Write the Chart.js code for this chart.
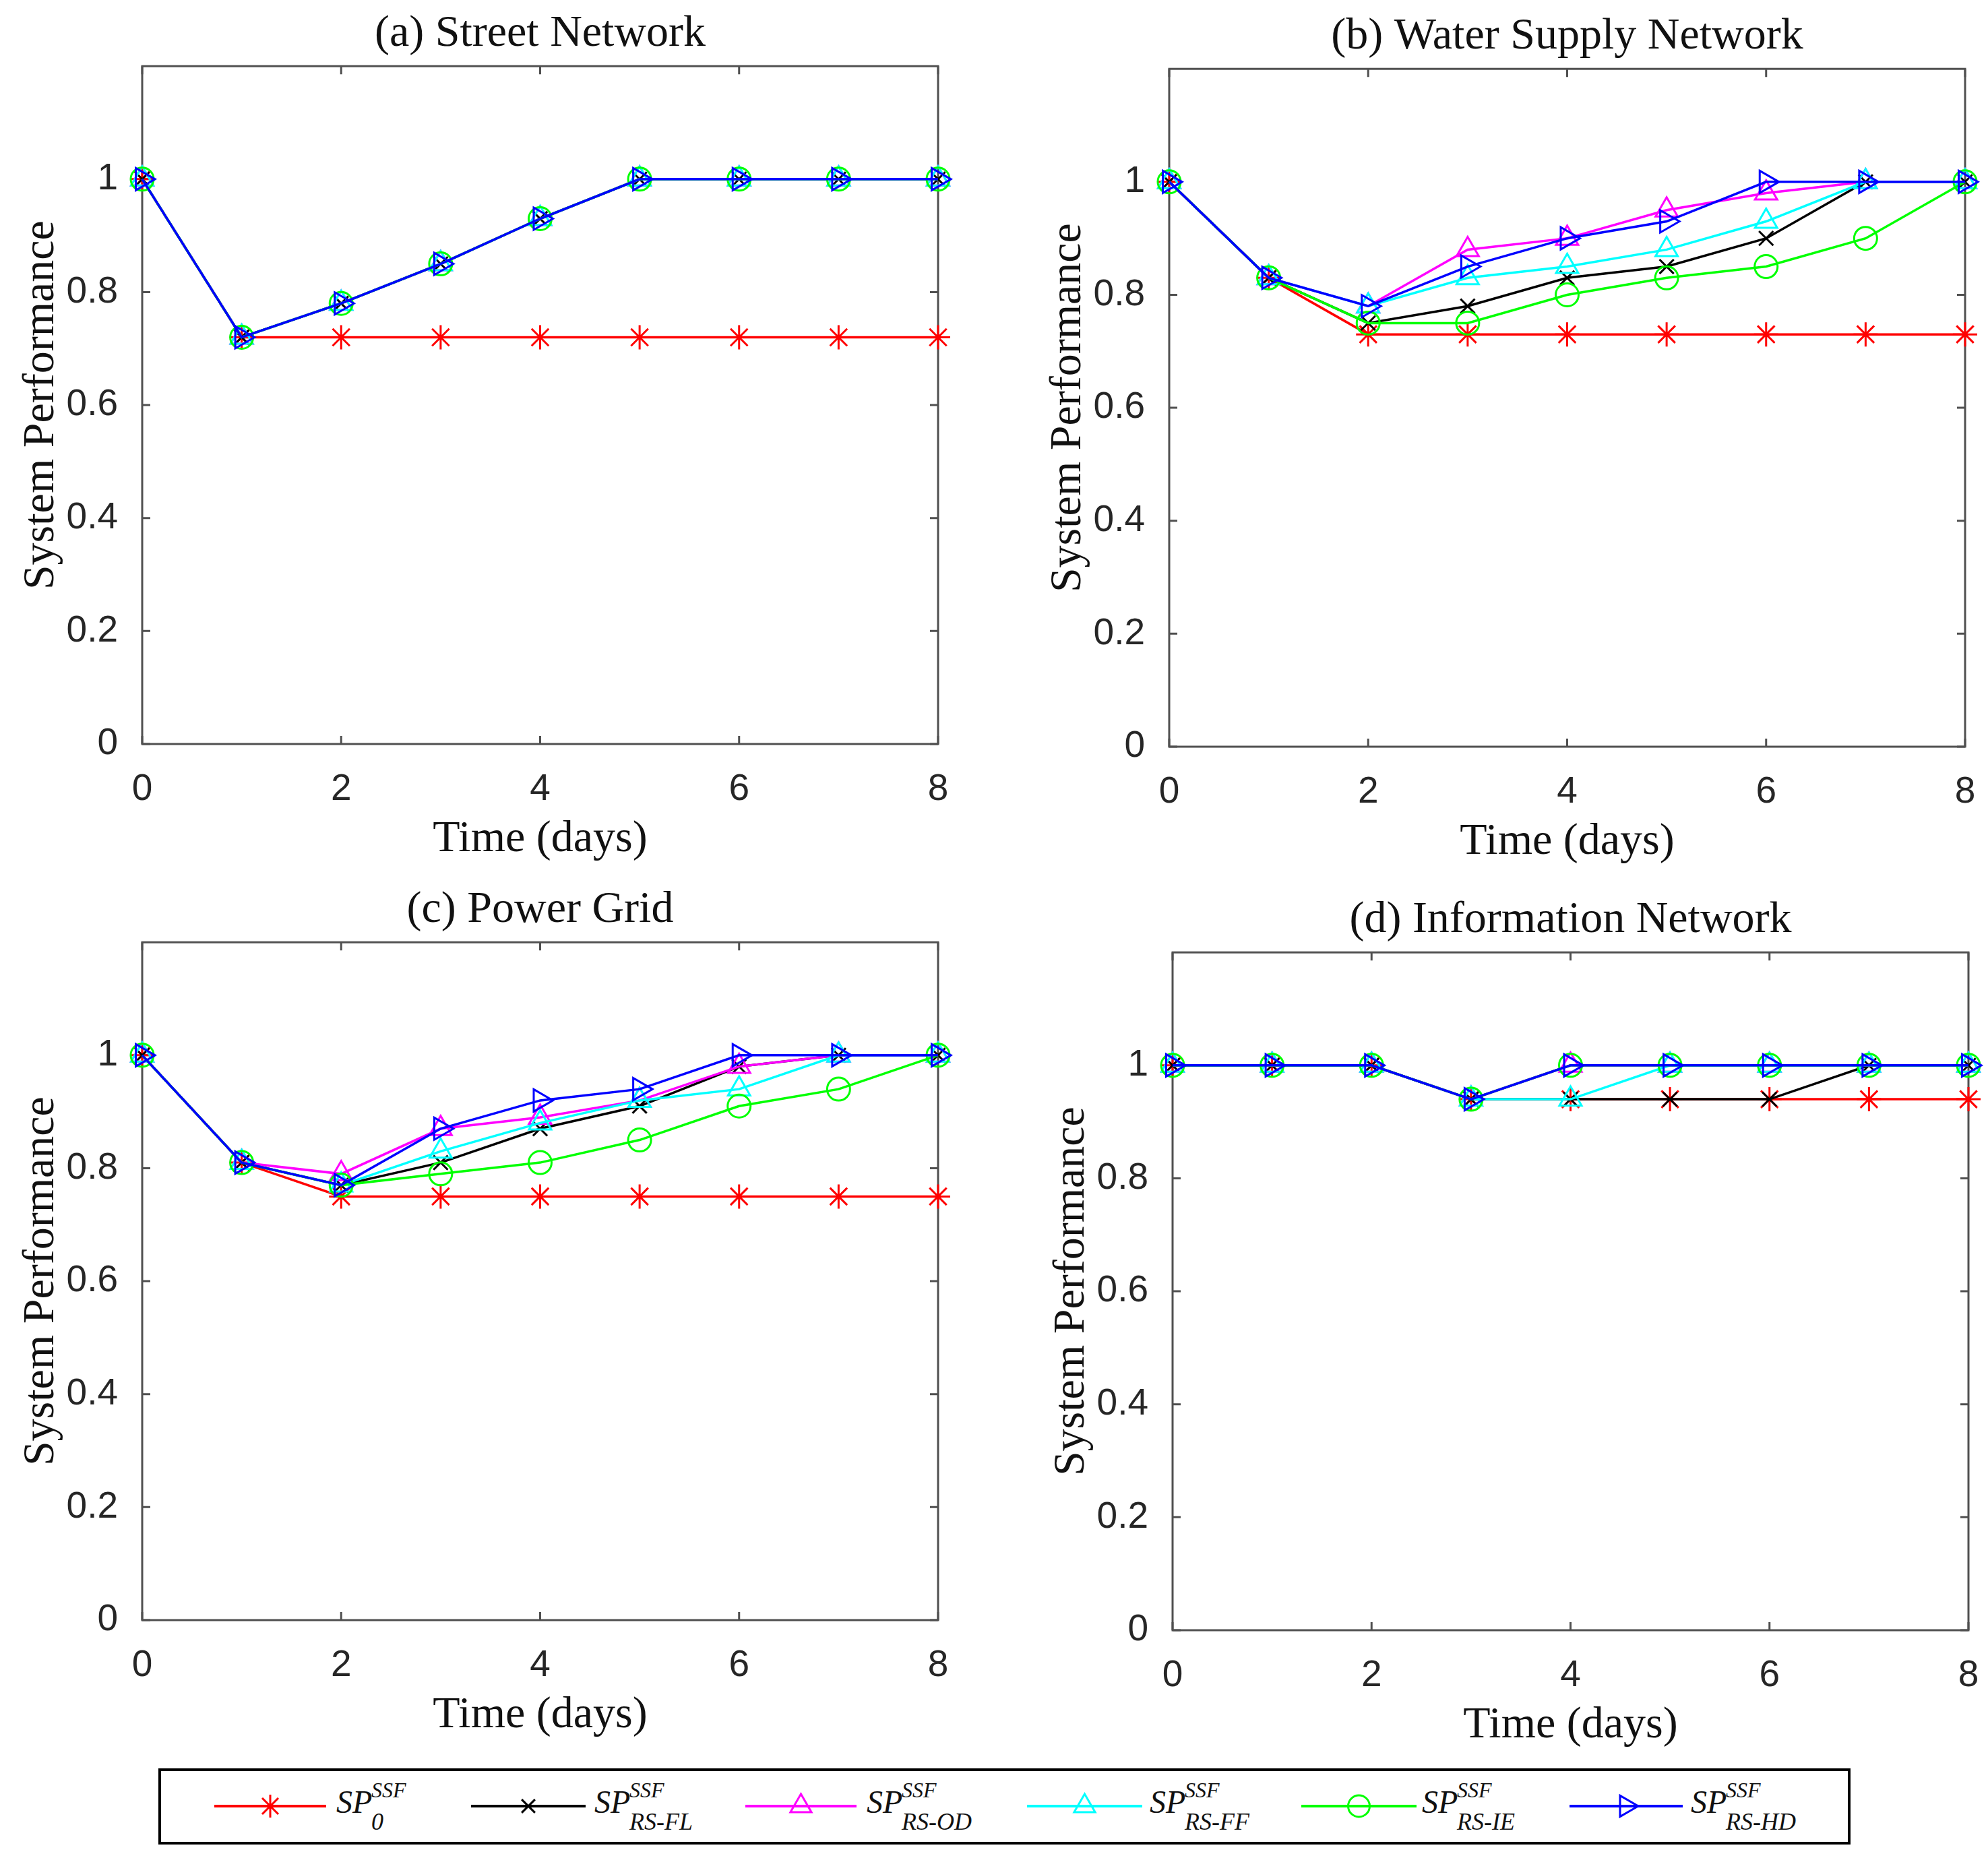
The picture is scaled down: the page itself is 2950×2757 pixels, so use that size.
<!DOCTYPE html>
<html>
<head>
<meta charset="utf-8">
<script src="https://cdn.jsdelivr.net/npm/chart.js@4/dist/chart.umd.min.js"></script>
<style>
  body { margin: 0; background: #fff; }
  #page { position: relative; width: 2950px; height: 2757px; background: #fff; overflow: hidden; }
  canvas.panel { position: absolute; }
  #legend { position: absolute; left: 235px; top: 2624px; width: 2511px; height: 113px;
            border: 4px solid #000; box-sizing: border-box; background: #fff; }
  .item { position: absolute; top: 0; height: 105px; }
  .item svg { position: absolute; top: 22px; }
  .lab { position: absolute; top: 0; font-family: "Liberation Serif", serif; font-style: italic; color: #111; }
  .lab i { position: absolute; line-height: 1; white-space: nowrap; }
  .sp { font-size: 48px; top: 22px; left: 0; }
  .sup { font-size: 32px; top: 12px; left: 52px; }
  .sub { font-size: 36px; top: 57px; left: 52px; }
</style>
</head>
<body>
<div id="page">
  <canvas class="panel" id="chartA" width="1440" height="1290" style="left:0px;top:0px"></canvas>
  <canvas class="panel" id="chartB" width="1440" height="1290" style="left:1524px;top:4px"></canvas>
  <canvas class="panel" id="chartC" width="1440" height="1290" style="left:0px;top:1300px"></canvas>
  <canvas class="panel" id="chartD" width="1440" height="1290" style="left:1529px;top:1315px"></canvas>
  <div id="legend"></div>
</div>
<script>
(function () {
    "use strict";

    // data
    const days = [0, 1, 2, 3, 4, 5, 6, 7, 8];
    const yTicks = [0, 0.2, 0.4, 0.6, 0.8, 1];

    const streetSP0 = [1, 0.72, 0.72, 0.72, 0.72, 0.72, 0.72, 0.72, 0.72];
    const streetFL  = [1, 0.72, 0.78, 0.85, 0.93, 1, 1, 1, 1];
    const streetOD  = [1, 0.72, 0.78, 0.85, 0.93, 1, 1, 1, 1];
    const streetFF  = [1, 0.72, 0.78, 0.85, 0.93, 1, 1, 1, 1];
    const streetIE  = [1, 0.72, 0.78, 0.85, 0.93, 1, 1, 1, 1];
    const streetHD  = [1, 0.72, 0.78, 0.85, 0.93, 1, 1, 1, 1];

    const waterSP0 = [1, 0.83, 0.73, 0.73, 0.73, 0.73, 0.73, 0.73, 0.73];
    const waterFL  = [1, 0.83, 0.75, 0.78, 0.83, 0.85, 0.90, 1, 1];
    const waterOD  = [1, 0.83, 0.78, 0.88, 0.90, 0.95, 0.98, 1, 1];
    const waterFF  = [1, 0.83, 0.78, 0.83, 0.85, 0.88, 0.93, 1, 1];
    const waterIE  = [1, 0.83, 0.75, 0.75, 0.80, 0.83, 0.85, 0.90, 1];
    const waterHD  = [1, 0.83, 0.78, 0.85, 0.90, 0.93, 1, 1, 1];

    const powerSP0 = [1, 0.81, 0.75, 0.75, 0.75, 0.75, 0.75, 0.75, 0.75];
    const powerFL  = [1, 0.81, 0.77, 0.81, 0.87, 0.91, 0.98, 1, 1];
    const powerOD  = [1, 0.81, 0.79, 0.87, 0.89, 0.92, 0.98, 1, 1];
    const powerFF  = [1, 0.81, 0.77, 0.83, 0.88, 0.92, 0.94, 1, 1];
    const powerIE  = [1, 0.81, 0.77, 0.79, 0.81, 0.85, 0.91, 0.94, 1];
    const powerHD  = [1, 0.81, 0.77, 0.87, 0.92, 0.94, 1, 1, 1];

    const infoSP0 = [1, 1, 1, 0.94, 0.94, 0.94, 0.94, 0.94, 0.94];
    const infoFL  = [1, 1, 1, 0.94, 0.94, 0.94, 0.94, 1, 1];
    const infoOD  = [1, 1, 1, 0.94, 1, 1, 1, 1, 1];
    const infoFF  = [1, 1, 1, 0.94, 0.94, 1, 1, 1, 1];
    const infoIE  = [1, 1, 1, 0.94, 1, 1, 1, 1, 1];
    const infoHD  = [1, 1, 1, 0.94, 1, 1, 1, 1, 1];

    const seriesSubs = ["0", "RS-FL", "RS-OD", "RS-FF", "RS-IE", "RS-HD"];

    // styles
    const colors = ["#ff0000", "#000000", "#ff00ff", "#00ffff", "#00ff00", "#0000ff"];
    const markers = ["star", "crossRot", "triangle", "triangle", "circle", "triangle"];
    const rotations = [0, 0, 0, 0, 0, 90];
    const radii = [18, 15, 19, 19, 17, 19];
    const axisColor = "#505050";

    const framePlugin = {
        id: "frame",
        beforeDatasetsDraw(chart) {
            const ctx = chart.ctx;
            const a = chart.chartArea;
            const x = chart.scales.x;
            const y = chart.scales.y;
            const tl = 12;
            ctx.save();
            ctx.strokeStyle = axisColor;
            ctx.lineWidth = 3;
            ctx.strokeRect(a.left, a.top, a.right - a.left, a.bottom - a.top);
            ctx.beginPath();
            x.ticks.forEach(function (t) {
                const px = x.getPixelForValue(t.value);
                ctx.moveTo(px, a.bottom); ctx.lineTo(px, a.bottom - tl);
                ctx.moveTo(px, a.top); ctx.lineTo(px, a.top + tl);
            });
            y.ticks.forEach(function (t) {
                const py = y.getPixelForValue(t.value);
                ctx.moveTo(a.left, py); ctx.lineTo(a.left + tl, py);
                ctx.moveTo(a.right, py); ctx.lineTo(a.right - tl, py);
            });
            ctx.stroke();
            ctx.restore();
        }
    };

    function makeChart(id, title, series) {
        const datasets = series.map(function (vals, i) {
            return {
                label: "SP" + seriesSubs[i],
                data: days.map(function (d, k) { return { x: d, y: vals[k] }; }),
                borderColor: colors[i],
                backgroundColor: colors[i],
                borderWidth: 3.5,
                pointStyle: markers[i],
                pointRotation: rotations[i],
                pointRadius: radii[i],
                pointBorderColor: colors[i],
                pointBackgroundColor: "rgba(0,0,0,0)",
                pointBorderWidth: 3,
                tension: 0,
                fill: false,
                clip: false,
                order: series.length - i
            };
        });

        return new Chart(document.getElementById(id), {
            type: "line",
            data: { datasets: datasets },
            options: {
                responsive: false,
                animation: false,
                devicePixelRatio: 1,
                layout: { padding: { left: 0, right: 48, top: 0, bottom: 0 } },
                plugins: {
                    legend: { display: false },
                    tooltip: { enabled: false },
                    title: {
                        display: true,
                        fullSize: false,
                        text: title,
                        color: "#111",
                        font: { family: "Liberation Serif", size: 66, weight: "normal" },
                        padding: { top: 11, bottom: 8 }
                    }
                },
                scales: {
                    x: {
                        type: "linear",
                        min: 0,
                        max: 8,
                        grid: { display: false },
                        border: { display: false },
                        ticks: {
                            stepSize: 2,
                            color: "#262626",
                            padding: 27,
                            font: { family: "Liberation Sans", size: 55 }
                        },
                        title: {
                            display: true,
                            text: "Time (days)",
                            color: "#111",
                            font: { family: "Liberation Serif", size: 66 },
                            padding: { top: 0, bottom: 5 }
                        },
                        afterFit: function (s) { s.height = 186; }
                    },
                    y: {
                        min: 0,
                        max: 1.2,
                        grid: { display: false },
                        border: { display: false },
                        afterBuildTicks: function (s) {
                            s.ticks = yTicks.map(function (v) { return { value: v }; });
                        },
                        ticks: {
                            color: "#262626",
                            padding: 28,
                            font: { family: "Liberation Sans", size: 55 },
                            callback: function (v) { return String(Math.round(v * 10) / 10); }
                        },
                        title: {
                            display: true,
                            text: "System Performance",
                            color: "#111",
                            font: { family: "Liberation Serif", size: 66 },
                            padding: { top: 22, bottom: 0 }
                        },
                        afterFit: function (s) { s.width = 211; }
                    }
                }
            },
            plugins: [framePlugin]
        });
    }

    makeChart("chartA", "(a) Street Network",
        [streetSP0, streetFL, streetOD, streetFF, streetIE, streetHD]);
    makeChart("chartB", "(b) Water Supply Network",
        [waterSP0, waterFL, waterOD, waterFF, waterIE, waterHD]);
    makeChart("chartC", "(c) Power Grid",
        [powerSP0, powerFL, powerOD, powerFF, powerIE, powerHD]);
    makeChart("chartD", "(d) Information Network",
        [infoSP0, infoFL, infoOD, infoFF, infoIE, infoHD]);

    // legend (html, so the sup/subscripts stay real text)
    const legendLines = [[79, 245, 260], [460, 630, 643], [867, 1032, 1047],
                         [1285, 1456, 1467], [1692, 1863, 1871], [2090, 2258, 2270]];

    function markerSvg(style, rot, r, c) {
        let shape = "";
        if (style === "star") {
            shape = '<path d="M0,-' + r + 'V' + r + 'M-' + r + ',0H' + r +
                'M-' + r * 0.707 + ',-' + r * 0.707 + 'L' + r * 0.707 + ',' + r * 0.707 +
                'M-' + r * 0.707 + ',' + r * 0.707 + 'L' + r * 0.707 + ',-' + r * 0.707 + '"/>';
        } else if (style === "crossRot") {
            const d = r * 0.707;
            shape = '<path d="M-' + d + ',-' + d + 'L' + d + ',' + d + 'M-' + d + ',' + d + 'L' + d + ',-' + d + '"/>';
        } else if (style === "circle") {
            shape = '<circle r="' + r + '"/>';
        } else {
            const h = r * 0.866;
            shape = '<path transform="rotate(' + rot + ')" d="M0,-' + r + 'L' + h + ',' + r / 2 + 'L-' + h + ',' + r / 2 + 'Z"/>';
        }
        return '<g fill="none" stroke="' + c + '" stroke-width="3">' + shape + '</g>';
    }

    const legend = document.getElementById("legend");
    legendLines.forEach(function (p, i) {
        const w = p[1] - p[0];
        const item = document.createElement("div");
        item.className = "item";
        item.style.left = p[0] + "px";
        item.innerHTML =
            '<svg width="' + w + '" height="60" viewBox="0 0 ' + w + ' 60">' +
            '<line x1="0" y1="30" x2="' + w + '" y2="30" stroke="' + colors[i] + '" stroke-width="4"/>' +
            '<g transform="translate(' + w / 2 + ',30)">' +
            markerSvg(markers[i], rotations[i], radii[i] - 1, colors[i]) + '</g></svg>' +
            '<span class="lab" style="left:' + (p[2] - p[0]) + 'px">' +
            '<i class="sp">SP</i><i class="sup">SSF</i><i class="sub">' + seriesSubs[i] + '</i></span>';
        legend.appendChild(item);
    });
})();
</script>
</body>
</html>
